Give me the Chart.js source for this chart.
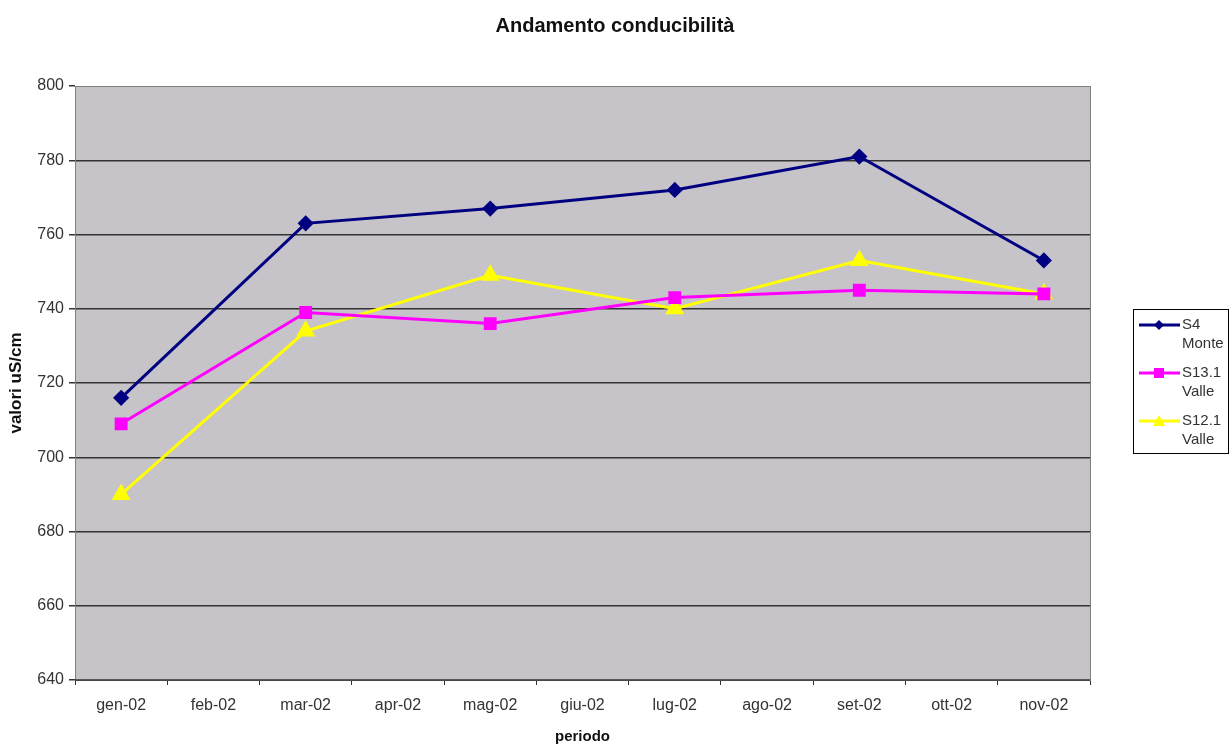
<!DOCTYPE html>
<html>
<head>
<meta charset="utf-8">
<script src="https://cdn.jsdelivr.net/npm/chart.js@4/dist/chart.umd.min.js"></script>
<style>
  html, body { margin: 0; padding: 0; background: #fff; }
  #wrap { width: 1230px; height: 744px; }
</style>
</head>
<body>
<div id="wrap"><canvas id="chart"></canvas></div>
<script>
// mesi del 2002
var mesi = ["gen-02", "feb-02", "mar-02", "apr-02", "mag-02", "giu-02", "lug-02", "ago-02", "set-02", "ott-02", "nov-02"];
// misure solo a mesi alterni
var s4Monte = [716, null, 763, null, 767, null, 772, null, 781, null, 753];
var s131Valle = [709, null, 739, null, 736, null, 743, null, 745, null, 744];
var s121Valle = [690, null, 734, null, 749, null, 740, null, 753, null, 744];
var nomiSerie = [["S4", "Monte"], ["S13.1", "Valle"], ["S12.1", "Valle"]];

var FONT = '"Liberation Sans", Arial, sans-serif';

var sfondoPlot = {
  id: 'sfondoPlot',
  beforeDraw: function(chart) {
    var a = chart.chartArea, ctx = chart.ctx;
    ctx.save();
    ctx.fillStyle = '#c6c4c8';
    ctx.fillRect(a.left, a.top, a.right - a.left, a.bottom - a.top);
    ctx.restore();
  },
  afterDatasetsDraw: function(chart) {
    var a = chart.chartArea, ctx = chart.ctx;
    ctx.save();
    ctx.strokeStyle = '#808080';
    ctx.lineWidth = 1;
    ctx.strokeRect(a.left + 0.5, a.top + 0.5, a.right - a.left, a.bottom - a.top);
    ctx.strokeStyle = '#333';
    ctx.lineWidth = 1.5;
    ctx.beginPath();
    ctx.moveTo(a.left, a.bottom);
    ctx.lineTo(a.right, a.bottom);
    ctx.stroke();
    ctx.restore();
  }
};

// legenda su due righe, come nel foglio originale
var legenda = {
  id: 'legenda',
  afterDraw: function(chart) {
    var ctx = chart.ctx;
    var x0 = 1133, y0 = 309, w = 96, h = 145;
    ctx.save();
    ctx.fillStyle = '#fff';
    ctx.fillRect(x0, y0, w, h);
    ctx.strokeStyle = '#000';
    ctx.lineWidth = 1;
    ctx.strokeRect(x0 + 0.5, y0 + 0.5, w - 1, h - 1);
    ctx.font = '15px ' + FONT;
    ctx.textBaseline = 'middle';
    chart.data.datasets.forEach(function(ds, i) {
      var y = y0 + 16 + i * 48;
      ctx.strokeStyle = ds.borderColor;
      ctx.lineWidth = 3;
      ctx.beginPath();
      ctx.moveTo(x0 + 6, y);
      ctx.lineTo(x0 + 47, y);
      ctx.stroke();
      ctx.fillStyle = ds.borderColor;
      var cx = x0 + 26, r = 5;
      ctx.beginPath();
      if (ds.pointStyle === 'rectRot') {
        ctx.moveTo(cx, y - r); ctx.lineTo(cx + r, y); ctx.lineTo(cx, y + r); ctx.lineTo(cx - r, y);
      } else if (ds.pointStyle === 'rect') {
        ctx.rect(cx - 5, y - 5, 10, 10);
      } else {
        ctx.moveTo(cx, y - 6); ctx.lineTo(cx + 6, y + 5); ctx.lineTo(cx - 6, y + 5);
      }
      ctx.closePath();
      ctx.fill();
      ctx.fillStyle = '#333';
      ctx.fillText(nomiSerie[i][0], x0 + 49, y);
      ctx.fillText(nomiSerie[i][1], x0 + 49, y + 19);
    });
    ctx.restore();
  }
};

new Chart(document.getElementById("chart"), {
  type: 'line',
  data: {
    labels: mesi,
    datasets: [
      {
        label: "S4 Monte",
        data: s4Monte,
        borderColor: '#000080',
        backgroundColor: '#000080',
        borderWidth: 3,
        pointStyle: 'rectRot',
        pointRadius: 6,
        spanGaps: true
      },
      {
        label: "S13.1 Valle",
        data: s131Valle,
        borderColor: '#ff00ff',
        backgroundColor: '#ff00ff',
        borderWidth: 3,
        pointStyle: 'rect',
        pointRadius: 7,
        spanGaps: true
      },
      {
        label: "S12.1 Valle",
        data: s121Valle,
        borderColor: '#ffff00',
        backgroundColor: '#ffff00',
        borderWidth: 3,
        pointStyle: 'triangle',
        pointRadius: 8,
        spanGaps: true
      }
    ]
  },
  options: {
    responsive: true,
    maintainAspectRatio: false,
    animation: false,
    layout: { padding: 0 },
    plugins: {
      legend: { display: false },
      tooltip: { enabled: false },
      title: {
        display: true,
        text: 'Andamento conducibilità',
        color: '#111',
        font: { family: FONT, size: 20, weight: 'bold', lineHeight: 1.2 },
        padding: { top: 14, bottom: 48 }
      }
    },
    scales: {
      x: {
        offset: true,
        grid: { display: true, offset: true, drawOnChartArea: false, drawTicks: true, tickLength: 5, color: '#333' },
        border: { display: false },
        ticks: {
          color: '#333',
          padding: 11,
          font: { family: FONT, size: 16 }
        },
        title: {
          display: true,
          text: 'periodo',
          color: '#111',
          padding: { top: 2, bottom: 0 },
          font: { family: FONT, size: 15, weight: 'bold', lineHeight: 1 }
        },
        afterFit: function(scale) { scale.height = 64; }
      },
      y: {
        min: 640,
        max: 800,
        ticks: {
          stepSize: 20,
          color: '#333',
          padding: 5,
          font: { family: FONT, size: 16 }
        },
        grid: {
          color: function(c) { return (c.tick.value === 640 || c.tick.value === 800) ? 'rgba(0,0,0,0)' : '#333'; },
          lineWidth: 1.5,
          tickLength: 6,
          tickColor: '#333'
        },
        border: { display: false },
        title: {
          display: true,
          text: 'valori uS/cm',
          color: '#111',
          padding: { top: 6, bottom: 0 },
          font: { family: FONT, size: 17, weight: 'bold' }
        },
        afterFit: function(scale) { scale.width = 75; }
      },
      // spazio vuoto a destra per la legenda
      spazio: {
        position: 'right',
        display: true,
        ticks: { display: false },
        grid: { display: false },
        border: { display: false },
        afterFit: function(scale) { scale.width = 140; }
      }
    }
  },
  plugins: [sfondoPlot, legenda]
});
</script>
</body>
</html>
